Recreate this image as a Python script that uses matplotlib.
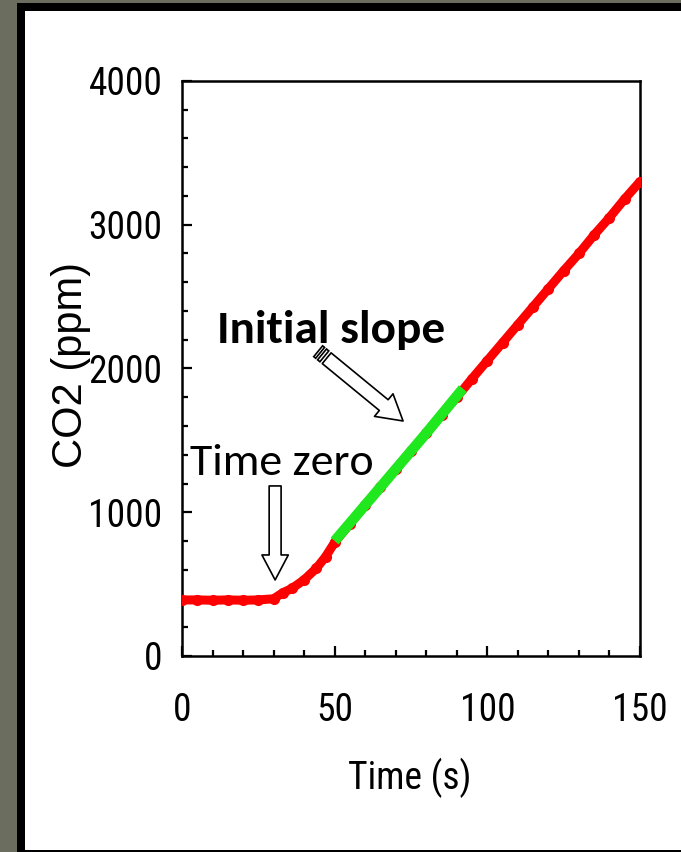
import numpy as np
import matplotlib
matplotlib.use("Agg")
import matplotlib.pyplot as plt
from matplotlib import font_manager
from matplotlib.patches import Rectangle, Polygon
from matplotlib.transforms import IdentityTransform

# Datos (tiempo en s, CO2 en ppm)
time_s = [0, 5, 10, 15, 20, 25, 30, 33, 36, 40, 44, 47, 50, 55, 60, 65, 70, 75,
          80, 85, 90, 95, 100, 105, 110, 115, 120, 125, 130, 135, 140, 145, 150]
co2_ppm = [390, 390, 388, 390, 388, 390, 398, 440, 470, 530, 610, 690, 790, 920,
           1050, 1175, 1300, 1425, 1550, 1680, 1800, 1930, 2055, 2180, 2305,
           2430, 2555, 2680, 2800, 2930, 3050, 3180, 3300]

# Tramo de la pendiente inicial (verde)
slope_t = [50, 60, 70, 80, 92]
slope_co2 = [800, 1050, 1300, 1550, 1860]

xticks = [0, 50, 100, 150]
yticks = [0, 1000, 2000, 3000, 4000]

names = {f.name for f in font_manager.fontManager.ttflist}
narrow = "Liberation Sans"
for cand in ["Liberation Sans Narrow", "Arial Narrow", "Roboto Condensed", "Archivo Narrow"]:
    if cand in names:
        narrow = cand
        break
callout = "Carlito" if "Carlito" in names else "Lato"

W, H = 681, 852
fig = plt.figure(figsize=(W / 100, H / 100), dpi=100, facecolor="#6b6d5f")

# Marco negro y panel blanco
fig.patches.append(Rectangle((17 / W, 0), 1, (H - 3) / H, transform=fig.transFigure,
                             facecolor="black", edgecolor="none", zorder=-10))
fig.patches.append(Rectangle((25 / W, 2 / H), 1, (H - 13) / H, transform=fig.transFigure,
                             facecolor="white", edgecolor="none", zorder=-9))

ax = fig.add_axes([182 / W, 196 / H, 458 / W, 575 / H])
ax.set_facecolor("none")

ax.plot(time_s, co2_ppm, color="red", lw=6.5, marker="o", ms=7, mec="red",
        solid_capstyle="round", zorder=3)
ax.plot(slope_t, slope_co2, color="#1fe81f", lw=7.5, solid_capstyle="butt", zorder=4)

ax.set_xlim(0, 150)
ax.set_ylim(0, 4000)
ax.set_xticks(xticks)
ax.set_yticks(yticks)
ax.set_xticks(np.arange(0, 151, 10), minor=True)
ax.set_yticks(np.arange(0, 4001, 200), minor=True)

for s in ax.spines.values():
    s.set_linewidth(1.8)
ax.tick_params(which="both", direction="in", top=False, right=False, width=1.6)
ax.tick_params(which="major", length=7)
ax.tick_params(which="minor", length=4.5)
ax.tick_params(axis="y", which="major", pad=14)
ax.tick_params(axis="x", which="major", pad=26)
for lab in ax.get_xticklabels() + ax.get_yticklabels():
    lab.set_fontfamily(narrow)
    lab.set_fontsize(27)

ax.set_xlabel("Time (s)", fontfamily=narrow, fontsize=27, va="center")
ax.xaxis.set_label_coords(0.498, -0.212)
ax.set_ylabel("CO2 (ppm)", fontfamily="Liberation Sans", fontsize=30, va="center")
ax.yaxis.set_label_coords(-0.242, 0.506)

ax.text(2.6, 1340, "Time zero", fontfamily=callout, fontsize=33, ha="left",
        va="center", zorder=6)
ax.text(11.5, 2270, "Initial slope", fontfamily=callout, fontsize=34,
        fontweight="bold", ha="left", va="center", zorder=6)

# Flecha hueca "Time zero"
ax.annotate("", xy=(30.5, 529), xytext=(30.5, 1183),
            arrowprops=dict(arrowstyle="simple,head_length=18,head_width=19,tail_width=8.6",
                            mutation_scale=1, fc="white", ec="black", lw=1.2,
                            shrinkA=0, shrinkB=0), zorder=5)

# Flecha rayada "Initial slope"
tail = np.array([44.6, 2120.0])
tip = np.array([72.4, 1635.0])
p0 = ax.transData.transform(tail)
p1 = ax.transData.transform(tip)
u = (p1 - p0) / np.hypot(*(p1 - p0))
nrm = np.array([-u[1], u[0]])
start = p0 + 11 * u
ax.annotate("", xy=tuple(tip), xytext=tuple(ax.transData.inverted().transform(start)),
            arrowprops=dict(arrowstyle="simple,head_length=18,head_width=21,tail_width=10",
                            mutation_scale=1, fc="white", ec="black", lw=1.2,
                            shrinkA=0, shrinkB=0), zorder=5)
hw = 7
for a, b in [(0, 2.5), (5, 8)]:
    c0 = p0 + a * u
    c1 = p0 + b * u
    pts = [c0 + hw * nrm, c1 + hw * nrm, c1 - hw * nrm, c0 - hw * nrm]
    ax.add_patch(Polygon(pts, closed=True, transform=IdentityTransform(),
                         fc="white", ec="black", lw=1.2, zorder=5, clip_on=False))

fig.savefig("out.png", dpi=100, facecolor=fig.get_facecolor())
